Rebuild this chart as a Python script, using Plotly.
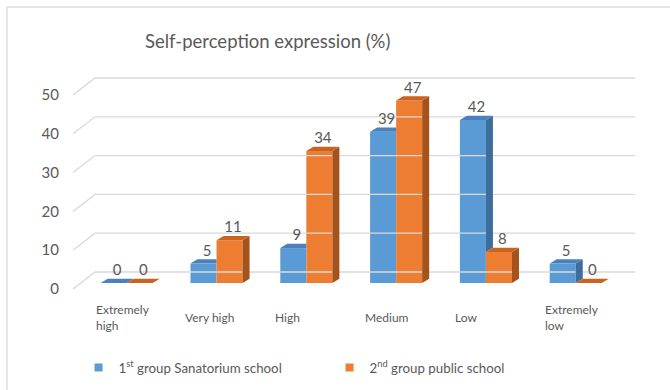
import plotly.graph_objects as go

# ---------------- data ----------------
categories = ["Extremely<br>high", "Very high", "High", "Medium", "Low", "Extremely<br>low"]
sanatorium = [0, 5, 9, 39, 42, 5]
public = [0, 11, 34, 47, 8, 0]
y_ticks = [0, 10, 20, 30, 40, 50]
series_names = ["1<sup>st</sup> group Sanatorium school", "2<sup>nd</sup> group public school"]
title_text = "Self-perception expression (%)"

# ---------------- style / geometry ----------------
FONT = "Lato"
TXT = "#595959"
BLUE, BLUE_TOP, BLUE_SIDE = "#5B9BD5", "#4A80BC", "#3D6D9B"
ORNG, ORNG_TOP, ORNG_SIDE = "#ED7D31", "#C9631F", "#A5521B"
GRID = "#D9D9D9"
BAR_W = 0.29      # bar width (category units)
BASE = 1.55       # bars stand a bit behind the front plane
DDX, DDY = 0.078, 1.1          # bar depth projection
WALL_DX, WALL_DY = 0.245, 4.38  # back-wall projection
WALL_X0, WALL_X1 = -0.598, 5.66

xs = list(range(len(categories)))

fig = go.Figure()

# back wall gridlines + side wall diagonals
gx, gy = [], []
for v in y_ticks:
    gx += [WALL_X0, WALL_X0 + WALL_DX, WALL_X1, None]
    gy += [v, v + WALL_DY, v + WALL_DY, None]
fig.add_trace(go.Scatter(x=gx, y=gy, mode="lines", line=dict(color=GRID, width=1.3),
                         hoverinfo="skip", showlegend=False))

# front faces (bars)
fig.add_trace(go.Bar(x=xs, y=sanatorium, base=[BASE] * len(xs), width=BAR_W, offset=-BAR_W,
                     marker=dict(color=BLUE, line=dict(width=0)), showlegend=False, hoverinfo="skip"))
fig.add_trace(go.Bar(x=xs, y=public, base=[BASE] * len(xs), width=BAR_W, offset=0,
                     marker=dict(color=ORNG, line=dict(width=0)), showlegend=False, hoverinfo="skip"))


def poly_trace(px, py, color):
    return go.Scatter(x=px, y=py, mode="lines", fill="toself", fillcolor=color,
                      line=dict(width=0, color=color), hoverinfo="skip", showlegend=False)


# blue side faces (only the part not hidden by the orange bar)
sx, sy = [], []
for i, (vb, vo) in enumerate(zip(sanatorium, public)):
    lo = min(vb, vo)
    if vb > lo:
        x1 = i
        sx += [x1, x1 + DDX, x1 + DDX, x1, x1, None]
        sy += [BASE + lo, BASE + lo + DDY, BASE + vb + DDY, BASE + vb, BASE + lo, None]
fig.add_trace(poly_trace(sx, sy, BLUE_SIDE))

# blue top faces
tx, ty = [], []
for i, (vb, vo) in enumerate(zip(sanatorium, public)):
    x0, x1 = i - BAR_W, i
    top = BASE + vb
    if vo > vb:
        tx += [x0, x0 + DDX, x1, x1, x0, None]
    else:
        tx += [x0, x0 + DDX, x1 + DDX, x1, x0, None]
    ty += [top, top + DDY, top + DDY, top, top, None]
fig.add_trace(poly_trace(tx, ty, BLUE_TOP))

# orange side faces
sx, sy = [], []
for i, vo in enumerate(public):
    x1 = i + BAR_W
    sx += [x1, x1 + DDX, x1 + DDX, x1, x1, None]
    sy += [BASE, BASE + DDY, BASE + vo + DDY, BASE + vo, BASE, None]
fig.add_trace(poly_trace(sx, sy, ORNG_SIDE))

# orange top faces
tx, ty = [], []
for i, vo in enumerate(public):
    x0, x1 = i, i + BAR_W
    top = BASE + vo
    tx += [x0, x0 + DDX, x1 + DDX, x1, x0, None]
    ty += [top, top + DDY, top + DDY, top, top, None]
fig.add_trace(poly_trace(tx, ty, ORNG_TOP))

# data labels
for vals, off in ((sanatorium, -BAR_W / 2), (public, BAR_W / 2)):
    fig.add_trace(go.Scatter(
        x=[i + off + DDX / 2 for i in xs], y=[BASE + v + DDY for v in vals],
        mode="text", text=[str(v) for v in vals], textposition="top center",
        textfont=dict(family=FONT, size=15, color=TXT), hoverinfo="skip", showlegend=False))

# legend entries
for name, col in zip(series_names, (BLUE, ORNG)):
    fig.add_trace(go.Scatter(x=[None], y=[None], mode="markers", name=name,
                             marker=dict(symbol="square", size=8, color=col)))

# category labels
for i, lab in zip(xs, categories):
    fig.add_annotation(x=i - BAR_W, xref="x", y=-0.072, yref="paper", text=lab,
                       xanchor="left", yanchor="middle", align="left", xshift=-7,
                       showarrow=False, font=dict(family=FONT, size=12, color=TXT))

# chart frame
fig.add_shape(type="line", xref="paper", yref="paper", x0=-0.0898, x1=1.1, y0=1.2208, y1=1.2208,
              line=dict(color="#DDDDDD", width=1.5))
fig.add_shape(type="line", xref="paper", yref="paper", x0=-0.0898, x1=-0.0898, y0=1.2208, y1=-0.5,
              line=dict(color="#DDDDDD", width=1.5))

fig.update_layout(
    width=670, height=390,
    margin=dict(l=60, r=20, t=60, b=90, autoexpand=False),
    paper_bgcolor="white", plot_bgcolor="white",
    barmode="overlay",
    title=dict(text=title_text, xref="container", yref="container", x=145 / 670, xanchor="left",
               y=1 - 42 / 390, yanchor="middle", font=dict(family=FONT, size=18.5, color=TXT)),
    xaxis=dict(range=[-0.743, 5.827], showticklabels=False, showgrid=False, zeroline=False,
               showline=False, fixedrange=True),
    yaxis=dict(range=[-2.835, 59.02], tickvals=y_ticks, ticktext=[str(v) for v in y_ticks],
               showgrid=False, zeroline=False, showline=False, ticks="",
               tickfont=dict(family=FONT, size=15, color=TXT), fixedrange=True),
    legend=dict(orientation="h", x=0.0314, xanchor="left", y=-0.283, yanchor="middle",
                entrywidth=206, entrywidthmode="pixels",
                font=dict(family=FONT, size=13.3, color=TXT), bgcolor="rgba(0,0,0,0)"),
    showlegend=True,
)

fig.write_html("out.html")
